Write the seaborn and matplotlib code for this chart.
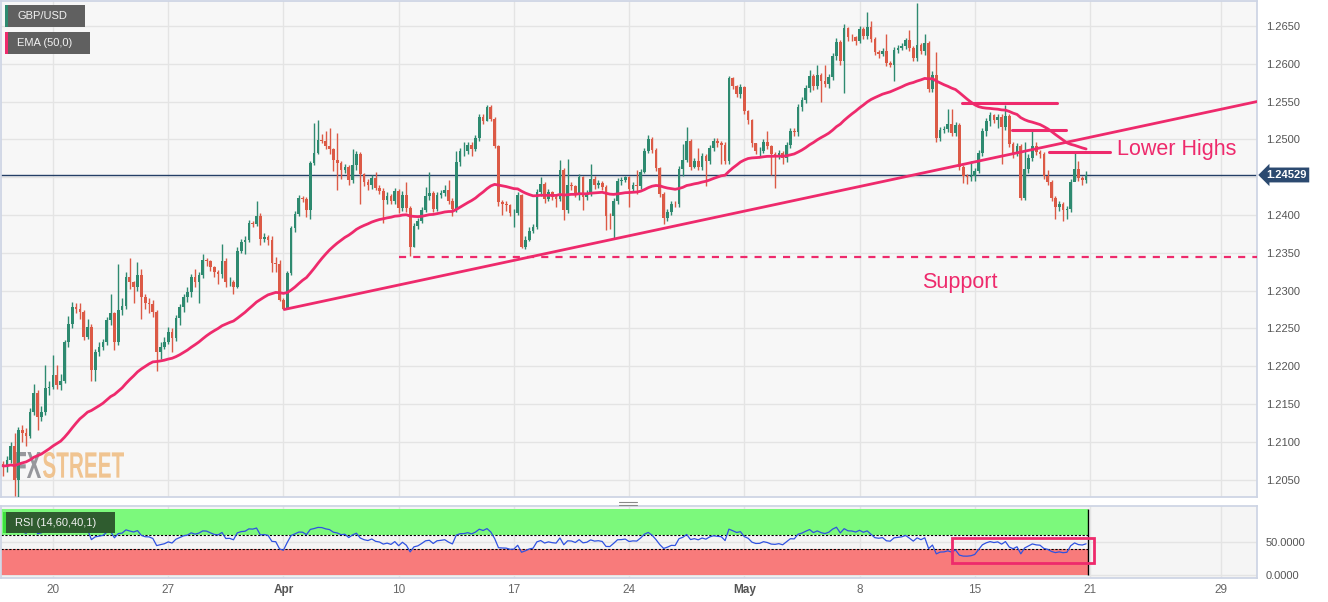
import numpy as np
import pandas as pd
import matplotlib
matplotlib.use('Agg')
import matplotlib.pyplot as plt
import seaborn as sns
from matplotlib.patches import Rectangle, PathPatch
from matplotlib.textpath import TextPath
from matplotlib.font_manager import FontProperties
from matplotlib.transforms import Affine2D, blended_transform_factory
from matplotlib.lines import Line2D

# GBP/USD 4H candles (open = previous close)
first_open = 1.2070
closes = [
    1.2068, 1.2076, 1.2094, 1.2050, 1.2116, 1.2112, 1.2108, 1.2140, 1.2164, 1.2133,
    1.2140, 1.2171, 1.2173, 1.2188, 1.2175, 1.2180, 1.2232, 1.2256, 1.2278, 1.2276,
    1.2272, 1.2239, 1.2252, 1.2195, 1.2219, 1.2226, 1.2232, 1.2261, 1.2270, 1.2232,
    1.2274, 1.2279, 1.2318, 1.2311, 1.2305, 1.2321, 1.2292, 1.2283, 1.2282, 1.2272,
    1.2219, 1.2226, 1.2232, 1.2245, 1.2237, 1.2264, 1.2278, 1.2292, 1.2298, 1.2318,
    1.2311, 1.2320, 1.2340, 1.2339, 1.2331, 1.2324, 1.2322, 1.2339, 1.2311, 1.2312,
    1.2305, 1.2353, 1.2364, 1.2367, 1.2389, 1.2388, 1.2398, 1.2368, 1.2371, 1.2367,
    # Mar 31 - Apr 14
    1.2337, 1.2335, 1.2287, 1.2276, 1.2323, 1.2383, 1.2401, 1.2422, 1.2421, 1.2406,
    1.2469, 1.2482, 1.2499, 1.2498, 1.2491, 1.2487, 1.2473, 1.2469, 1.2460, 1.2463,
    1.2446, 1.2466, 1.2480, 1.2454, 1.2444, 1.2439, 1.2449, 1.2436, 1.2432, 1.2420,
    1.2425, 1.2418, 1.2432, 1.2409, 1.2427, 1.2409, 1.2357, 1.2386, 1.2392, 1.2407,
    1.2425, 1.2429, 1.2408, 1.2426, 1.2429, 1.2433, 1.2419, 1.2408, 1.2470, 1.2484,
    1.2485, 1.2493, 1.2487, 1.2502, 1.2530, 1.2524, 1.2543, 1.2527, 1.2491, 1.2417,
    1.2414, 1.2413, 1.2402, 1.2403,
    # Apr 17 - May 2
    1.2426, 1.2358, 1.2367, 1.2379, 1.2384, 1.2430, 1.2441, 1.2421, 1.2430, 1.2424,
    1.2421, 1.2460, 1.2406, 1.2440, 1.2438, 1.2426, 1.2450, 1.2424, 1.2429, 1.2448,
    1.2439, 1.2442, 1.2437, 1.2399, 1.2398, 1.2419, 1.2445, 1.2446, 1.2450, 1.2435,
    1.2439, 1.2438, 1.2457, 1.2485, 1.2500, 1.2486, 1.2462, 1.2428, 1.2396, 1.2404,
    1.2415, 1.2414, 1.2461, 1.2473, 1.2498, 1.2464, 1.2472, 1.2464, 1.2478, 1.2471,
    1.2489, 1.2498, 1.2495, 1.2493, 1.2472, 1.2581, 1.2571, 1.2560, 1.2569, 1.2537,
    1.2525, 1.2495,
    # May 3 - May 15
    1.2484, 1.2485, 1.2497, 1.2491, 1.2480, 1.2478, 1.2482, 1.2475, 1.2492, 1.2511,
    1.2510, 1.2543, 1.2552, 1.2568, 1.2584, 1.2570, 1.2585, 1.2577, 1.2573, 1.2583,
    1.2610, 1.2629, 1.2603, 1.2647, 1.2636, 1.2635, 1.2630, 1.2646, 1.2637, 1.2649,
    1.2633, 1.2616, 1.2613, 1.2617, 1.2601, 1.2599, 1.2618, 1.2621, 1.2624, 1.2632,
    1.2621, 1.2608, 1.2625, 1.2617, 1.2627, 1.2566, 1.2585, 1.2502, 1.2513, 1.2514,
    1.2520, 1.2508, 1.2519, 1.2464, 1.2451, 1.2450, 1.2452, 1.2458, 1.2482, 1.2511,
    1.2524, 1.2532, 1.2526, 1.2530,
    # May 16 - May 19
    1.2516, 1.2531, 1.2494, 1.2480, 1.2491, 1.2423, 1.2461, 1.2476, 1.2491, 1.2483,
    1.2480, 1.2452, 1.2443, 1.2422, 1.2410, 1.2414, 1.2406, 1.2408, 1.2443, 1.2461,
    1.2449, 1.2446, 1.24529,
]
highs = [
    1.2075, 1.2081, 1.2100, 1.2112, 1.2120, 1.2122, 1.2118, 1.2145, 1.2177, 1.2168,
    1.2148, 1.2202, 1.2180, 1.2215, 1.2202, 1.2190, 1.2235, 1.2267, 1.2285, 1.2283,
    1.2283, 1.2274, 1.2262, 1.2256, 1.2223, 1.2232, 1.2236, 1.2265, 1.2296, 1.2272,
    1.2335, 1.2290, 1.2324, 1.2343, 1.2313, 1.2338, 1.2329, 1.2295, 1.2290, 1.2287,
    1.2274, 1.2232, 1.2238, 1.2252, 1.2250, 1.2268, 1.2282, 1.2296, 1.2305, 1.2322,
    1.2329, 1.2325, 1.2349, 1.2343, 1.2341, 1.2333, 1.2327, 1.2362, 1.2343, 1.2318,
    1.2314, 1.2357, 1.2368, 1.2372, 1.2393, 1.2392, 1.2419, 1.2403, 1.2376, 1.2374,
    1.2372, 1.2345, 1.2340, 1.2290, 1.2326, 1.2386, 1.2405, 1.2426, 1.2425, 1.2424,
    1.2472, 1.2521, 1.2525, 1.2507, 1.2511, 1.2515, 1.2489, 1.2508, 1.2471, 1.2468,
    1.2466, 1.2487, 1.2484, 1.2483, 1.2456, 1.2447, 1.2453, 1.2457, 1.2440, 1.2436,
    1.2430, 1.2428, 1.2436, 1.2435, 1.2432, 1.2444, 1.2412, 1.2390, 1.2396, 1.2411,
    1.2437, 1.2457, 1.2432, 1.2430, 1.2433, 1.2440, 1.2446, 1.2422, 1.2484, 1.2488,
    1.2496, 1.2497, 1.2496, 1.2506, 1.2533, 1.2533, 1.2546, 1.2545, 1.2529, 1.2493,
    1.2420, 1.2418, 1.2414, 1.2408,
    1.2430, 1.2428, 1.2372, 1.2384, 1.2388, 1.2434, 1.2450, 1.2444, 1.2434, 1.2432,
    1.2428, 1.2473, 1.2462, 1.2474, 1.2443, 1.2440, 1.2454, 1.2452, 1.2433, 1.2468,
    1.2452, 1.2446, 1.2445, 1.2440, 1.2402, 1.2423, 1.2449, 1.2450, 1.2452, 1.2452,
    1.2443, 1.2459, 1.2461, 1.2489, 1.2506, 1.2503, 1.2488, 1.2464, 1.2430, 1.2408,
    1.2419, 1.2418, 1.2465, 1.2494, 1.2517, 1.2500, 1.2476, 1.2489, 1.2482, 1.2480,
    1.2493, 1.2502, 1.2502, 1.2498, 1.2496, 1.2584, 1.2583, 1.2572, 1.2573, 1.2571,
    1.2539, 1.2527,
    1.2495, 1.2490, 1.2501, 1.2511, 1.2493, 1.2483, 1.2486, 1.2485, 1.2496, 1.2515,
    1.2515, 1.2547, 1.2556, 1.2572, 1.2592, 1.2587, 1.2599, 1.2588, 1.2599, 1.2587,
    1.2614, 1.2634, 1.2632, 1.2653, 1.2648, 1.2640, 1.2637, 1.2650, 1.2648, 1.2668,
    1.2656, 1.2635, 1.2618, 1.2621, 1.2639, 1.2603, 1.2622, 1.2625, 1.2628, 1.2634,
    1.2645, 1.2623, 1.2680, 1.2627, 1.2640, 1.2630, 1.2590, 1.2616, 1.2517, 1.2518,
    1.2540, 1.2540, 1.2523, 1.2521, 1.2466, 1.2454, 1.2471, 1.2462, 1.2486, 1.2515,
    1.2528, 1.2536, 1.2534, 1.2534,
    1.2533, 1.2546, 1.2534, 1.2496, 1.2495, 1.2494, 1.2496, 1.2480, 1.2511, 1.2496,
    1.2486, 1.2483, 1.2459, 1.2446, 1.2425, 1.2418, 1.2417, 1.2412, 1.2447, 1.2484,
    1.2472, 1.2452, 1.2458,
]
lows = [
    1.2055, 1.2060, 1.2072, 1.2028, 1.2025, 1.2100, 1.2095, 1.2105, 1.2135, 1.2116,
    1.2128, 1.2136, 1.2162, 1.2170, 1.2170, 1.2168, 1.2178, 1.2225, 1.2250, 1.2270,
    1.2262, 1.2234, 1.2236, 1.2180, 1.2180, 1.2214, 1.2222, 1.2228, 1.2255, 1.2221,
    1.2228, 1.2268, 1.2275, 1.2302, 1.2283, 1.2300, 1.2263, 1.2275, 1.2270, 1.2265,
    1.2193, 1.2210, 1.2223, 1.2229, 1.2219, 1.2233, 1.2255, 1.2272, 1.2285, 1.2292,
    1.2305, 1.2283, 1.2316, 1.2333, 1.2326, 1.2318, 1.2309, 1.2317, 1.2305, 1.2306,
    1.2295, 1.2303, 1.2350, 1.2348, 1.2364, 1.2384, 1.2385, 1.2360, 1.2364, 1.2360,
    1.2324, 1.2325, 1.2286, 1.2275, 1.2275, 1.2320, 1.2378, 1.2398, 1.2417, 1.2397,
    1.2395, 1.2466, 1.2480, 1.2495, 1.2487, 1.2480, 1.2458, 1.2433, 1.2447, 1.2455,
    1.2439, 1.2442, 1.2460, 1.2414, 1.2438, 1.2433, 1.2435, 1.2433, 1.2428, 1.2389,
    1.2415, 1.2414, 1.2414, 1.2403, 1.2405, 1.2404, 1.2346, 1.2357, 1.2382, 1.2390,
    1.2404, 1.2420, 1.2404, 1.2405, 1.2422, 1.2425, 1.2415, 1.2399, 1.2404, 1.2465,
    1.2478, 1.2480, 1.2478, 1.2484, 1.2498, 1.2520, 1.2524, 1.2524, 1.2488, 1.2412,
    1.2400, 1.2405, 1.2399, 1.2384,
    1.2400, 1.2356, 1.2355, 1.2365, 1.2376, 1.2382, 1.2425, 1.2416, 1.2418, 1.2420,
    1.2410, 1.2418, 1.2393, 1.2402, 1.2433, 1.2424, 1.2420, 1.2406, 1.2420, 1.2425,
    1.2435, 1.2436, 1.2433, 1.2380, 1.2382, 1.2369, 1.2415, 1.2440, 1.2443, 1.2411,
    1.2430, 1.2428, 1.2435, 1.2455, 1.2482, 1.2482, 1.2458, 1.2424, 1.2388, 1.2392,
    1.2400, 1.2410, 1.2410, 1.2452, 1.2470, 1.2459, 1.2462, 1.2460, 1.2460, 1.2438,
    1.2468, 1.2485, 1.2490, 1.2467, 1.2468, 1.2468, 1.2566, 1.2556, 1.2555, 1.2533,
    1.2520, 1.2490,
    1.2480, 1.2478, 1.2482, 1.2487, 1.2453, 1.2436, 1.2474, 1.2467, 1.2470, 1.2488,
    1.2505, 1.2505, 1.2538, 1.2548, 1.2563, 1.2565, 1.2566, 1.2550, 1.2569, 1.2568,
    1.2578, 1.2605, 1.2598, 1.2561, 1.2630, 1.2630, 1.2625, 1.2627, 1.2633, 1.2633,
    1.2629, 1.2612, 1.2608, 1.2610, 1.2597, 1.2596, 1.2577, 1.2614, 1.2618, 1.2620,
    1.2617, 1.2603, 1.2604, 1.2613, 1.2612, 1.2562, 1.2562, 1.2497, 1.2498, 1.2508,
    1.2510, 1.2504, 1.2504, 1.2460, 1.2442, 1.2441, 1.2445, 1.2445, 1.2455, 1.2478,
    1.2504, 1.2518, 1.2522, 1.2515,
    1.2467, 1.2512, 1.2490, 1.2476, 1.2478, 1.2420, 1.2420, 1.2455, 1.2472, 1.2479,
    1.2476, 1.2448, 1.2439, 1.2418, 1.2395, 1.2405, 1.2392, 1.2395, 1.2404, 1.2446,
    1.2445, 1.2440, 1.2442,
]

# date ticks (candle index of first bar of the day)
tick_idx = [13, 43, 73, 103, 133, 163, 193, 223, 253, 283, 317]
tick_labels = ['20', '27', 'Apr', '10', '17', '24', 'May', '8', '15', '21', '29']

# drawn analysis
trend_x = [73.2, 326.5]
trend_y = [1.2275, 1.2550]
support_x = [103.0, 326.5]
support_level = 1.2345
lh_start = [249.7, 262.7, 272.4]
lh_end = [274.5, 276.8, 288.2]
lh_level = [1.2548, 1.2512, 1.2483]
last_price = 1.24529

GREEN = '#2e8a70'
RED = '#dc5a46'
PINK = '#ee2a6c'
NAVY = '#243f66'

sns.set_theme(style='whitegrid', rc={
    'axes.facecolor': '#f7f7f7',
    'axes.edgecolor': '#cdd4e4',
    'grid.color': '#e4e4e4',
    'grid.linewidth': 1.0,
})
plt.rcParams['font.family'] = ['Liberation Sans', 'DejaVu Sans']

W, H = 1328, 602
fig = plt.figure(figsize=(W / 100, H / 100), dpi=100)
fig.patch.set_facecolor('white')
ax = fig.add_axes([0.0008, 1 - 497 / H, 1257 / W - 0.0008, 496 / H])
ax_rsi = fig.add_axes([0.0008, 1 - 578 / H, 1257 / W - 0.0008, 72 / H], sharex=ax)

df = pd.DataFrame({'close': closes, 'high': highs, 'low': lows})
df['open'] = df['close'].shift(1).fillna(first_open)
df['ema'] = df['close'].ewm(span=50, adjust=False).mean()
delta = df['close'] - df['open']
gain = delta.clip(lower=0).ewm(alpha=1 / 14, adjust=True).mean()
loss = (-delta).clip(lower=0).ewm(alpha=1 / 14, adjust=True).mean()
df['rsi'] = 100 - 100 / (1 + gain / loss)
df.loc[:3, 'rsi'] = np.nan   # not enough history for the first bars
n = len(df)
x = np.arange(n)

# candles
up = df['close'] >= df['open']
cols = np.where(up, GREEN, RED)
ax.vlines(x, df['low'], df['high'], colors=cols, lw=1, zorder=3)
body = np.maximum((df['close'] - df['open']).abs(), 0.00008)
ax.bar(x, body, bottom=np.minimum(df['open'], df['close']), width=0.7,
       color=cols, linewidth=0, zorder=3.5)

ax.axhline(last_price, color=NAVY, lw=1, zorder=2)
sns.lineplot(x=x, y=df['ema'].values, ax=ax, color=PINK, lw=2, zorder=4)
ax.plot(trend_x, trend_y, color=PINK, lw=2, zorder=4)
ax.plot(support_x, [support_level, support_level], color=PINK, lw=1.6,
        ls=(0, (3.2, 3.2)), zorder=4)
for xs, xe, lv in zip(lh_start, lh_end, lh_level):
    ax.plot([xs, xe], [lv, lv], color=PINK, lw=2.2, zorder=4)
ax.text(249.2, 1.2311, 'Support', color=PINK, fontsize=15.5, ha='center', va='center')
ax.text(290.1, 1.2487, 'Lower Highs', color=PINK, fontsize=15.5, ha='left', va='center')

ax.set_xlim(-0.52, 326.5)
ax.set_ylim(1.2027, 1.2683)
yt = np.arange(1.2050, 1.26501, 0.005)
ax.set_yticks(yt)
# the 1.2450 label sits under the last-price tag
ax.set_yticklabels(['' if abs(v - 1.2450) < 1e-6 else '%.4f' % v for v in yt])
ax.yaxis.tick_right()
ax.tick_params(axis='y', length=0, pad=6.5, labelsize=8, colors='#555555')
ax.tick_params(axis='x', length=0, labelbottom=False)
ax.set_xlabel('')
ax.set_ylabel('')

# last price tag
tr = blended_transform_factory(ax.transAxes, ax.transData)
ax.text(1.0075, last_price, '1.24529', transform=tr, color='white', fontsize=8,
        fontweight='bold', ha='left', va='center', clip_on=False,
        bbox=dict(boxstyle='larrow,pad=0.22', fc='#2c4a70', ec='none'))

# RSI panel
last = n - 1 + 0.55
ax_rsi.set_facecolor('#f5f5f5')
ax_rsi.fill_between([-0.52, last], 60, 100, color='#7cf97c', lw=0, zorder=1)
ax_rsi.fill_between([-0.52, last], 0, 40, color='#f87b7b', lw=0, zorder=1)
ax_rsi.hlines([60, 40], -0.52, last, colors='black', lw=0.8, linestyles=(0, (2, 1.5)), zorder=2)
ax_rsi.vlines(last, 0, 100, colors='black', lw=1, zorder=2)
sns.lineplot(x=x, y=df['rsi'].values, ax=ax_rsi, color='#2f52e0', lw=0.9, zorder=3)
ax_rsi.add_patch(Rectangle((247.1, 18), 37, 38, fill=False, ec=PINK, lw=2, zorder=4))
ax_rsi.set_ylim(-4.5, 104.5)
ax_rsi.set_yticks([0, 50])
ax_rsi.set_yticklabels(['0.0000', '50.0000'])
ax_rsi.yaxis.tick_right()
ax_rsi.tick_params(axis='y', length=0, pad=6.5, labelsize=8, colors='#555555')
ax_rsi.set_xticks(tick_idx)
ax_rsi.set_xticklabels(tick_labels)
ax_rsi.tick_params(axis='x', length=0, pad=4, labelsize=8.5, colors='#666666')
for lab in ax_rsi.get_xticklabels():
    if lab.get_text() in ('Apr', 'May'):
        lab.set_fontweight('bold')
        lab.set_color('#555555')
ax_rsi.set_xlabel('')
ax_rsi.set_ylabel('')


def fx(px):
    return px / W


def fy(py):
    return 1 - py / H


# legend boxes
def tag(x0, y0, x1, y1, stripe, label, fc):
    fig.add_artist(Rectangle((fx(x0), fy(y1)), fx(x1 - x0), (y1 - y0) / H, fc=fc, ec='none'))
    fig.add_artist(Rectangle((fx(x0), fy(y1)), fx(3), (y1 - y0) / H, fc=stripe, ec='none'))
    fig.text(fx(x0 + 12), fy((y0 + y1) / 2), label, color='#f2f2f2', fontsize=8,
             va='center', ha='left')


tag(5, 5, 85, 27, GREEN, 'GBP/USD', '#606060')
tag(5, 32, 90, 54, PINK, 'EMA (50,0)', '#606060')
tag(3, 512, 115, 533, '#3ee03e', 'RSI (14,60,40,1)', '#2f5c2f')

# panel handle
for yy in (502, 505):
    fig.add_artist(Line2D([fx(619), fx(637)], [fy(yy), fy(yy)], color='#888888', lw=0.8))

# FXSTREET watermark
fp = FontProperties(family='Liberation Sans', weight='bold')


def mark(s, x0, x1, ytop, ybot, color, alpha):
    tp = TextPath((0, 0), s, size=1, prop=fp)
    bb = tp.get_extents()
    t = (Affine2D().translate(-bb.x0, -bb.y0)
         .scale((x1 - x0) / bb.width, (ybot - ytop) / bb.height)
         .translate(x0, H - ybot).scale(1 / W, 1 / H) + fig.transFigure)
    ax.add_patch(PathPatch(tp, transform=t, fc=color, ec='none', alpha=alpha, zorder=2.5))


mark('FX', 15, 41, 452, 478, '#8c8d92', 0.9)
mark('STREET', 43, 124, 452, 478, '#efbb7f', 0.85)

fig.savefig('out.png', dpi=100)
